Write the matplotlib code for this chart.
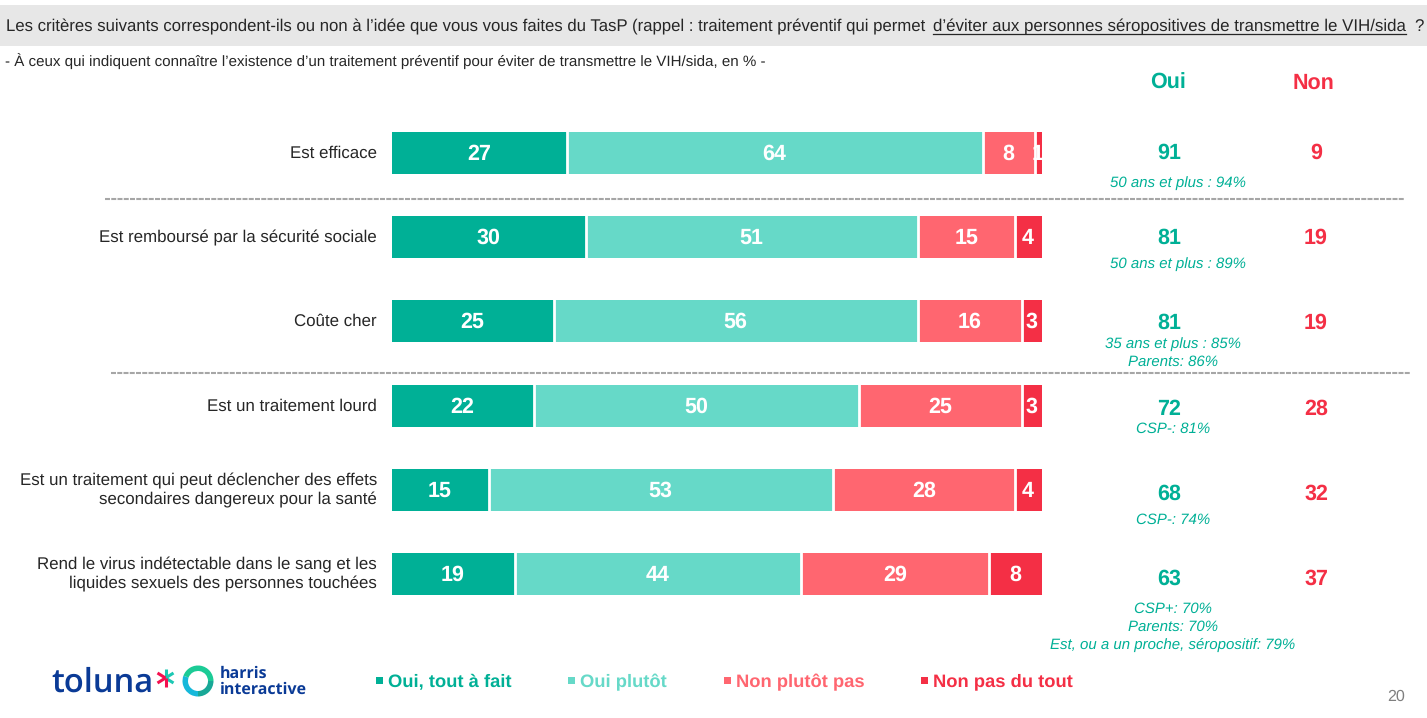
import matplotlib
matplotlib.use('Agg')
import matplotlib.pyplot as plt
from matplotlib.patches import Rectangle, Wedge

# --- Data ---
LABELS = [
    'Est efficace',
    'Est remboursé par la sécurité sociale',
    'Coûte cher',
    'Est un traitement lourd',
    'Est un traitement qui peut déclencher des effets\nsecondaires dangereux pour la santé',
    'Rend le virus indétectable dans le sang et les\nliquides sexuels des personnes touchées',
]
TOUT_A_FAIT = [27, 30, 25, 22, 15, 19]
PLUTOT = [64, 51, 56, 50, 53, 44]
PLUTOT_PAS = [8, 15, 16, 25, 28, 29]
PAS_DU_TOUT = [1, 4, 3, 3, 4, 8]
OUI = [91, 81, 81, 72, 68, 63]
NON = [9, 19, 19, 28, 32, 37]
NOTES = [
    '50 ans et plus : 94%',
    '50 ans et plus : 89%',
    '35 ans et plus : 85%\nParents: 86%',
    'CSP-: 81%',
    'CSP-: 74%',
    'CSP+: 70%\nParents: 70%\nEst, ou a un proche, séropositif: 79%',
]
LEGEND = ['Oui, tout à fait', 'Oui plutôt', 'Non plutôt pas', 'Non pas du tout']

C1, C2, C3, C4 = '#00B096', '#66D9C8', '#FF6670', '#F42F45'
COLORS = [C1, C2, C3, C4]
INK = '#262626'
NAVY = '#0A3A96'

plt.rcParams['font.family'] = ['Liberation Sans', 'DejaVu Sans']
plt.rcParams['text.hinting'] = 'no_hinting'

W, H = 1427, 718
fig = plt.figure(figsize=(W / 100, H / 100), dpi=100)
bg = fig.add_axes([0, 0, 1, 1])
bg.set_xlim(0, W)
bg.set_ylim(H, 0)
bg.axis('off')

# header band
bg.add_patch(Rectangle((0, 5), W, 41, color='#E7E7E7', lw=0))
bg.text(6, 27, "Les critères suivants correspondent-ils ou non à l’idée que vous vous faites du TasP "
        "(rappel : traitement préventif qui permet", fontsize=12.08, color=INK, va='center')
bg.text(933, 27, "d’éviter aux personnes séropositives de transmettre le VIH/sida", fontsize=12.2,
        color=INK, va='center')
bg.plot([933, 1406], [34, 34], color=INK, lw=0.9)
bg.text(1414, 27, '?', fontsize=12.2, color=INK, va='center')
bg.text(5, 60.5, "- À ceux qui indiquent connaître l’existence d’un traitement préventif pour éviter "
        "de transmettre le VIH/sida, en % -", fontsize=10.9, color=INK, va='center')

# bars
ax = fig.add_axes([392 / W, 1 - 616 / H, 650 / W, 490 / H])
ypos = [153, 237, 321, 406, 490, 574]
left = [0] * len(LABELS)
for series, col in zip([TOUT_A_FAIT, PLUTOT, PLUTOT_PAS, PAS_DU_TOUT], COLORS):
    ax.barh(ypos, series, left=left, height=42, color=col, linewidth=0)
    for i, v in enumerate(series):
        # white gap between segments
        if left[i] > 0:
            ax.plot([left[i] - 0.15, left[i] - 0.15], [ypos[i] - 21, ypos[i] + 21], color='white', lw=2)
        ax.text(left[i] + v / 2 - 0.15, ypos[i] + 1, str(v), color='white', fontsize=15.5,
                fontweight='bold', ha='center', va='center', clip_on=True)
        left[i] += v
ax.set_xlim(0, 100)
ax.set_ylim(616, 126)
ax.axis('off')

for y, lab in zip(ypos, LABELS):
    bg.text(377, y + 0.5, lab, fontsize=12.13, color=INK, ha='right', va='center', linespacing=1.3)

# dashed separators
bg.plot([105, 1404], [199, 199], color='#A6A6A6', lw=1.5, ls=(0, (2.4, 0.6)))
bg.plot([111, 1411], [373, 373], color='#A6A6A6', lw=1.5, ls=(0, (2.4, 0.6)))

# totals
bg.text(1168, 83, 'Oui', fontsize=15.5, fontweight='bold', color=C1, ha='center', va='center')
bg.text(1313, 83, 'Non', fontsize=15.5, fontweight='bold', color=C4, ha='center', va='center')
total_y = [153, 238, 323, 409, 494, 579]
note_y = [183, 264, 353, 429, 520, 627]
note_x = [1178, 1178, 1173, 1173, 1173, 1173]
for y, nx, ny, o, n, note in zip(total_y, note_x, note_y, OUI, NON, NOTES):
    bg.text(1169, y, str(o), fontsize=15.5, fontweight='bold', color=C1, ha='center', va='center')
    bg.text(1316, y, str(n), fontsize=15.5, fontweight='bold', color=C4, ha='center', va='center')
    bg.text(nx, ny, note, fontsize=10.8, style='italic', color=C1,
            ha='center', va='center', linespacing=1.38)

# legend
for x, lab, col in zip([376, 568, 724, 921], LEGEND, COLORS):
    bg.add_patch(Rectangle((x, 677), 7, 7, color=col, lw=0))
    bg.text(x + 12, 682, lab, fontsize=13.25, fontweight='bold', color=col, va='center')

# logos, drawn from text and simple shapes
bg.text(51, 683, 'toluna', fontsize=23.5, family='Open Sans', fontweight='semibold', color=NAVY, va='center')
# asterisk: 6 short strokes around one centre
for dx, dy, col in [(0, -9, '#1CC8B4'), (8, -5, '#1CC8B4'), (8, 5, '#1CC8B4'),
                    (0, 9, '#F4104F'), (-8, 5, '#F4104F'), (-8, -5, '#F4104F')]:
    bg.plot([165.5, 165.5 + dx], [678, 678 + dy], color=col, lw=2.2, solid_capstyle='butt')
# ring: y axis is inverted, so the angles run clockwise on screen
for a, b, col in [(0, 90, '#18A897'), (90, 200, '#16B8DA'), (200, 360, '#1CCB96')]:
    bg.add_patch(Wedge((198, 681), 15.5, a, b, width=5.5, color=col, lw=0))
bg.text(220, 674, 'harris', fontsize=11.5, family='Open Sans', fontweight='bold', color=NAVY, va='center')
bg.text(220, 690, 'interactive', fontsize=11.5, family='Open Sans', fontweight='bold', color=NAVY, va='center')

bg.text(1396, 697, '20', fontsize=11.5, color='#7F7F7F', ha='center', va='center')

fig.savefig('out.png', dpi=100)
